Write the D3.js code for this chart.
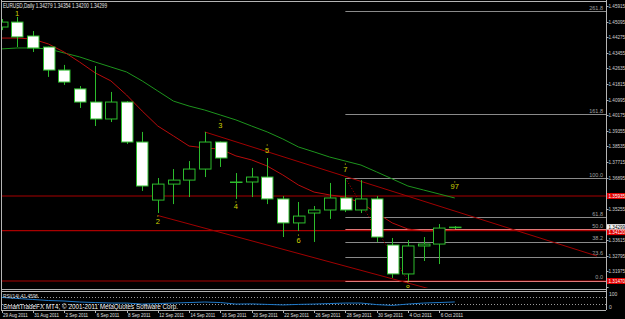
<!DOCTYPE html>
<html>
<head>
<meta charset="utf-8">
<script src="https://cdn.jsdelivr.net/npm/d3@7"></script>
<style>
  html, body { margin: 0; padding: 0; background: #000; }
  svg { display: block; }
  text { font-family: "Liberation Sans", Arial, sans-serif; }
  .narrow { font-family: "Liberation Sans Narrow", "Liberation Sans", Arial, sans-serif; }
</style>
</head>
<body>
<div id="chart"></div>
<script>
// EURUSD daily bars
let dates = ["29 Aug 2011","30 Aug 2011","31 Aug 2011","1 Sep 2011","2 Sep 2011","5 Sep 2011",
  "6 Sep 2011","7 Sep 2011","8 Sep 2011","9 Sep 2011","12 Sep 2011","13 Sep 2011","14 Sep 2011",
  "15 Sep 2011","16 Sep 2011","19 Sep 2011","20 Sep 2011","21 Sep 2011","22 Sep 2011","23 Sep 2011",
  "26 Sep 2011","27 Sep 2011","28 Sep 2011","29 Sep 2011","30 Sep 2011","3 Oct 2011","4 Oct 2011",
  "5 Oct 2011","6 Oct 2011","7 Oct 2011"];
let opens  = [1.4481,1.4507,1.4434,1.4376,1.4255,1.4156,1.4087,1.3998,1.4087,1.3877,1.3572,1.3656,1.3677,
  1.3735,1.3877,1.3667,1.3667,1.3693,1.3578,1.3452,1.3504,1.3520,1.3583,1.3520,1.3578,1.3336,1.3184,
  1.3331,1.3341,1.34279];
let highs  = [1.4523,1.4534,1.4460,1.4378,1.4282,1.4171,1.4276,1.4140,1.4092,1.3930,1.3688,1.3735,1.3777,
  1.3930,1.3880,1.3714,1.3741,1.3793,1.3593,1.3562,1.3541,1.3662,1.3688,1.3677,1.3593,1.3373,1.3362,
  1.3378,1.3446,1.34354];
let lows   = [1.4465,1.4376,1.4350,1.4219,1.4177,1.4056,1.3961,1.3982,1.3867,1.3620,1.3504,1.3551,1.3588,
  1.3693,1.3746,1.3578,1.3588,1.3551,1.3378,1.3410,1.3352,1.3473,1.3509,1.3504,1.3352,1.3163,1.3147,
  1.3252,1.3236,1.34200];
let closes = [1.4507,1.4429,1.4371,1.4255,1.4192,1.4087,1.3998,1.4087,1.3877,1.3646,1.3656,1.3677,1.3735,
  1.3877,1.3793,1.3665,1.3693,1.3578,1.3452,1.3488,1.3520,1.3583,1.3520,1.3578,1.3378,1.3184,1.3331,
  1.3341,1.3425,1.34299];

// moving averages
let maFast = [1.4423,1.4423,1.4418,1.4392,1.4350,1.4297,1.4240,1.4198,1.4124,1.4040,1.3961,1.3909,1.3856,
  1.3846,1.3840,1.3804,1.3783,1.3751,1.3704,1.3651,1.3614,1.3599,1.3588,1.3557,1.3504,1.3452,1.3420,
  1.3410,1.3410,1.3415];
let maSlow = [1.4366,1.4371,1.4371,1.4366,1.4345,1.4324,1.4297,1.4271,1.4245,1.4198,1.4145,1.4092,1.4066,
  1.4045,1.4019,1.3993,1.3961,1.3930,1.3893,1.3851,1.3825,1.3798,1.3777,1.3756,1.3720,1.3683,1.3646,
  1.3625,1.3604,1.3583];

// RSI(14)
let rsi = [68,62,56,50,47,41,38,35,35,29,32,35,38,41,38,29,30,27,24,27,29,32,35,35,26,21,29,35,38,41.4596];

// price axis
let priceTicks = [1.45915,1.45095,1.44275,1.43455,1.42635,1.41815,1.40995,1.40175,1.39355,1.38535,
  1.37715,1.36895,1.36075,1.35255,1.34435,1.33615,1.32795,1.31975,1.31155];
let dateLabels = ["29 Aug 2011","31 Aug 2011","2 Sep 2011","6 Sep 2011","8 Sep 2011","12 Sep 2011",
  "14 Sep 2011","16 Sep 2011","20 Sep 2011","22 Sep 2011","26 Sep 2011","28 Sep 2011","30 Sep 2011",
  "4 Oct 2011","6 Oct 2011"];

// objects
let hLines = [1.35935, 1.34120, 1.31470];
let fibFrom = 22, fibTo = 26, fibHigh = 1.3688, fibLow = 1.3147;
let fibLevels = [0, 23.6, 38.2, 50, 61.8, 100, 161.8, 261.8];
let trendUpper = [[13, 1.3930], [38.1, 1.3278]];
let trendLower = [[10, 1.3491], [29, 1.3070]];
let waveText = ["1","2","3","4","5","6","7","8","97"];
let waveBar = [1, 10, 14, 15, 17, 19, 22, 26, 29];
let wavePrice = [1.4554, 1.3462, 1.3966, 1.3536, 1.3835, 1.3362, 1.3735, 1.3115, 1.3641];

const W = 625, H = 319;
const green = "#2cbc2c";
const svg = d3.select("#chart").append("svg")
  .attr("width", W).attr("height", H)
  .style("background", "#000");

const x = d3.scalePoint().domain(dates).range([1.5, 1.5 + 29 * 15.63]);
const xi = d3.scaleLinear().domain([0, dates.length - 1]).range(x.range());
const y = d3.scaleLinear().domain([1.31102, 1.46125]).range([288, 2]);
const yR = d3.scaleLinear().domain([0, 100]).range([309, 292]);
const f5 = d3.format(".5f");

svg.append("clipPath").attr("id", "main")
  .append("rect").attr("x", 2).attr("y", 2).attr("width", 604).attr("height", 286);
svg.append("clipPath").attr("id", "sub")
  .append("rect").attr("x", 2).attr("y", 292).attr("width", 604).attr("height", 17);

const g = svg.append("g").attr("clip-path", "url(#main)");

// horizontal red lines
g.selectAll(".hl").data(hLines).join("line")
  .attr("x1", 2).attr("x2", 606)
  .attr("y1", d => y(d)).attr("y2", d => y(d))
  .attr("stroke", "#a80000").attr("stroke-width", 1.2);

// fibonacci levels
let fibX = xi(fibFrom);
let fibPrice = lv => fibLow + (fibHigh - fibLow) * lv / 100;
g.selectAll(".fib").data(fibLevels).join("line")
  .attr("x1", fibX).attr("x2", 606)
  .attr("y1", d => Math.round(y(fibPrice(d))) + 0.5)
  .attr("y2", d => Math.round(y(fibPrice(d))) + 0.5)
  .attr("stroke", d => hLines.some(h => Math.abs(y(h) - y(fibPrice(d))) < 2.5) ? "#e07878" : "#8a8a8a")
  .attr("stroke-width", 1);
g.selectAll(".fibt").data(fibLevels).join("text")
  .attr("x", 603).attr("y", d => y(fibPrice(d)) - 1.5)
  .attr("text-anchor", "end")
  .attr("font-size", 5.5).attr("fill", "#a0a0a0")
  .text(d => d3.format(".1f")(d));
g.append("line")
  .attr("x1", xi(fibFrom)).attr("y1", y(fibHigh))
  .attr("x2", xi(fibTo)).attr("y2", y(fibLow))
  .attr("stroke", "#c00000").attr("stroke-dasharray", "1,2");

// trend channel
[trendUpper, trendLower].forEach(t => {
  g.append("line")
    .attr("x1", xi(t[0][0])).attr("y1", y(t[0][1]))
    .attr("x2", xi(t[1][0])).attr("y2", y(t[1][1]))
    .attr("stroke", "#a00000").attr("stroke-width", 1);
});

// moving averages
let line = d3.line().x((d, i) => x(dates[i])).y(d => y(d));
g.append("path").datum(maSlow).attr("d", line)
  .attr("fill", "none").attr("stroke", "#1d941d").attr("stroke-width", 1);
g.append("path").datum(maFast).attr("d", line)
  .attr("fill", "none").attr("stroke", "#b80c0c").attr("stroke-width", 1);

// candles
let idx = d3.range(dates.length);
let bw = 11.5;
g.selectAll(".wick").data(idx).join("line")
  .attr("x1", i => Math.round(x(dates[i])) + 0.5)
  .attr("x2", i => Math.round(x(dates[i])) + 0.5)
  .attr("y1", i => y(highs[i])).attr("y2", i => y(lows[i]))
  .attr("stroke", green);
g.selectAll(".body").data(idx).join("rect")
  .attr("x", i => Math.round(x(dates[i]) - bw / 2) + 0.5)
  .attr("y", i => y(Math.max(opens[i], closes[i])))
  .attr("width", bw)
  .attr("height", i => Math.max(0.5, Math.abs(y(opens[i]) - y(closes[i]))))
  .attr("fill", i => closes[i] < opens[i] ? "#fff" : "#000")
  .attr("stroke", green).attr("stroke-width", 1);

// wave labels
waveText.forEach((t, k) => {
  let px = x(dates[waveBar[k]]), py = y(wavePrice[k]);
  g.append("text").attr("x", px).attr("y", py + 2.5)
    .attr("text-anchor", "middle").attr("font-size", 7.5)
    .attr("fill", "#d0d000").text(t);
  g.append("rect").attr("x", px - 0.5).attr("y", py - 5.5)
    .attr("width", 1).attr("height", 1).attr("fill", "#d0d000");
});

// header
svg.append("text").attr("x", 3).attr("y", 7.5)
  .attr("font-size", 6.5).attr("fill", "#e8e8e8")
  .attr("textLength", 104).attr("lengthAdjust", "spacingAndGlyphs")
  .text("EURUSD,Daily " + [opens[29], highs[29], lows[29], closes[29]].map(f5).join(" "));

// frame
let frame = svg.append("g").attr("stroke", "#b4b4b4").attr("stroke-width", 1);
frame.append("line").attr("x1", 1.5).attr("x2", 1.5).attr("y1", 0).attr("y2", 310);
frame.append("line").attr("x1", 1).attr("x2", 606).attr("y1", 1.5).attr("y2", 1.5);
frame.append("line").attr("x1", 606.5).attr("x2", 606.5).attr("y1", 0).attr("y2", 310);
frame.append("line").attr("x1", 1).attr("x2", 606).attr("y1", 289.5).attr("y2", 289.5);
frame.append("line").attr("x1", 1).attr("x2", 606).attr("y1", 291.5).attr("y2", 291.5);
frame.append("line").attr("x1", 1).attr("x2", 606).attr("y1", 310.5).attr("y2", 310.5);

// price axis: labels hidden where a price box sits on top of them
let bid = closes[29];
let boxed = hLines.concat([bid]);
let ax = svg.append("g");
ax.selectAll("line").data(priceTicks).join("line")
  .attr("x1", 606).attr("x2", 608.5)
  .attr("y1", d => Math.round(y(d)) + 0.5).attr("y2", d => Math.round(y(d)) + 0.5)
  .attr("stroke", "#b4b4b4");
ax.selectAll("text").data(priceTicks.filter(p => !boxed.some(b => Math.abs(y(b) - y(p)) < 6)))
  .join("text")
  .attr("class", "narrow")
  .attr("x", 608.5).attr("y", d => y(d) + 2)
  .attr("font-size", 4.6).attr("fill", "#d0d0d0")
  .text(f5);

// price boxes for lines (pushed below the bid box when they touch it) and current bid
hLines.forEach(h => {
  let cy = y(h);
  if (Math.abs(cy - y(bid)) < 6) cy = y(bid) + 5;
  ax.append("rect").attr("x", 607).attr("y", cy - 3).attr("width", 18).attr("height", 6)
    .attr("fill", "#e00000");
  ax.append("text").attr("class", "narrow").attr("x", 608.5).attr("y", cy + 2)
    .attr("font-size", 4.6).attr("fill", "#fff").text(f5(h));
});
ax.append("rect").attr("x", 607).attr("y", y(bid) - 3).attr("width", 18).attr("height", 5.5)
  .attr("fill", "#f4f4f4");
ax.append("text").attr("class", "narrow").attr("x", 608.5).attr("y", y(bid) + 1.8)
  .attr("font-size", 4.6).attr("fill", "#000").text(f5(bid));

// RSI window
let sub = svg.append("g").attr("clip-path", "url(#sub)");
[70, 30].forEach(v => {
  sub.append("line").attr("x1", 2).attr("x2", 606)
    .attr("y1", Math.round(yR(v)) + 0.5).attr("y2", Math.round(yR(v)) + 0.5)
    .attr("stroke", "#9a9a9a").attr("stroke-dasharray", "1,2");
});
sub.append("path").datum(rsi)
  .attr("d", d3.line().x((d, i) => x(dates[i])).y(d => yR(d)))
  .attr("fill", "none").attr("stroke", "#1e78c8").attr("stroke-width", 1);
svg.append("text").attr("x", 3).attr("y", 297.5)
  .attr("font-size", 5).attr("fill", "#e0e0e0")
  .attr("textLength", 35).attr("lengthAdjust", "spacingAndGlyphs")
  .text("RSI(14) " + d3.format(".4f")(rsi[rsi.length - 1]));
svg.append("text").attr("x", 3).attr("y", 309)
  .attr("font-size", 7).attr("fill", "#f0f0f0")
  .attr("textLength", 175).attr("lengthAdjust", "spacingAndGlyphs")
  .text("SmartTradeFX MT4, \u00a9 2001-2011 MetaQuotes Software Corp.");
[100, 0].forEach(v => {
  svg.append("text").attr("x", 609).attr("y", yR(v) + (v ? 3.5 : -0.5))
    .attr("font-size", 5).attr("fill", "#d0d0d0").text(v);
});

// time axis
let tx = svg.append("g");
tx.selectAll("line").data(dateLabels).join("line")
  .attr("x1", d => Math.round(x(d)) + 0.5).attr("x2", d => Math.round(x(d)) + 0.5)
  .attr("y1", 310).attr("y2", 313).attr("stroke", "#b4b4b4");
tx.selectAll("text").data(dateLabels).join("text")
  .attr("x", d => x(d) + 1.5).attr("y", 317)
  .attr("font-size", 5).attr("fill", "#e0e0e0")
  .attr("textLength", d => d.length * 2.25).attr("lengthAdjust", "spacingAndGlyphs")
  .text(d => d);
</script>
</body>
</html>
